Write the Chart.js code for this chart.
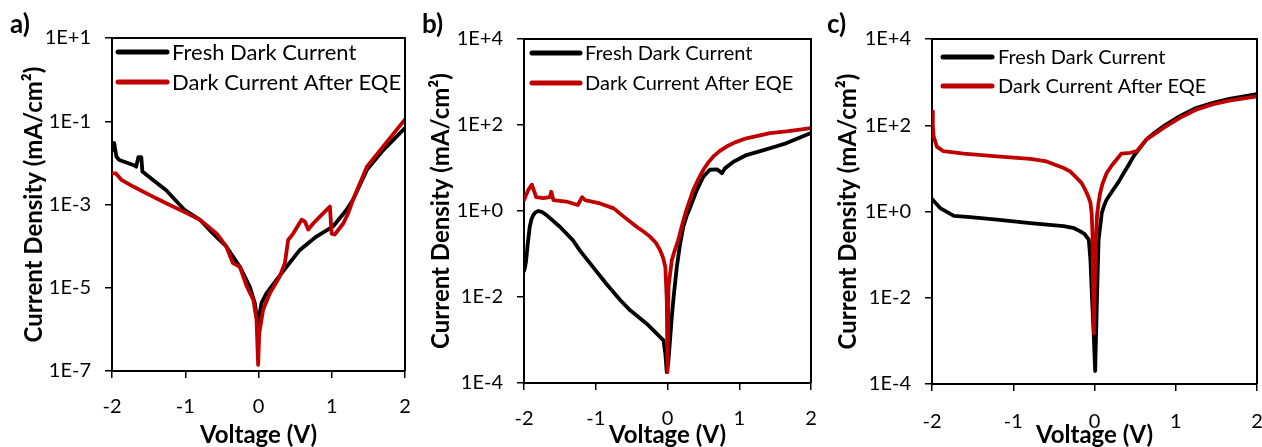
<!DOCTYPE html>
<html><head><meta charset="utf-8">
<script src="https://cdn.jsdelivr.net/npm/chart.js@4"></script>
<style>
html,body{margin:0;padding:0;background:#fff;}
#wrap{position:relative;width:1262px;height:447px;overflow:hidden;background:#fff;}
canvas{position:absolute;top:0;}
.lbl{position:absolute;top:10px;font-family:Lato,"DejaVu Sans",sans-serif;font-weight:bold;font-size:26px;line-height:26px;color:#000;}
</style></head><body>
<div id="wrap">
<canvas id="ca" width="420" height="447" style="left:0px"></canvas>
<canvas id="cb" width="410" height="447" style="left:420px"></canvas>
<canvas id="cc" width="432" height="447" style="left:830px"></canvas>
<div class="lbl" style="left:10px">a)</div>
<div class="lbl" style="left:422px">b)</div>
<div class="lbl" style="left:827px">c)</div>
</div>
<script>
// ---------- data ----------
const panelLabels = ['a)', 'b)', 'c)'];
const seriesNames = ['Fresh Dark Current', 'Dark Current After EQE'];
const xTickValues = [-2, -1, 0, 1, 2];
const aTickValues = [1e1, 1e-1, 1e-3, 1e-5, 1e-7];
const aTickLabels = ['1E+1', '1E-1', '1E-3', '1E-5', '1E-7'];
const bcTickValues = [1e4, 1e2, 1e0, 1e-2, 1e-4];
const bcTickLabels = ['1E+4', '1E+2', '1E+0', '1E-2', '1E-4'];

// panel a
const aFreshV = [-2.0,-1.97,-1.94,-1.90,-1.71,-1.67,-1.64,-1.60,-1.585,-1.44,-1.26,-1.01,-0.80,-0.62,-0.44,-0.255,-0.12,-0.05,-0.018,-0.005,0.01,0.04,0.11,0.246,0.383,0.565,0.79,1.02,1.20,1.29,1.48,1.70,2.0];
const aFreshJ = [0.02,0.03,0.014,0.0117,0.0089,0.0081,0.0138,0.0138,0.0062,0.0039,0.0022,7.4e-4,4.3e-4,2.0e-4,9.8e-5,3.2e-5,1.07e-5,4.3e-6,1.7e-6,9.8e-7,2.0e-6,4.3e-6,7.4e-6,1.55e-5,3.2e-5,8.1e-5,1.7e-4,3.0e-4,7.4e-4,1.3e-3,6.8e-3,0.020,0.069];
const aAfterV = [-2.0,-1.95,-1.87,-1.71,-1.49,-1.26,-0.98,-0.80,-0.57,-0.44,-0.35,-0.255,-0.16,-0.07,-0.027,-0.005,0.01,0.064,0.155,0.29,0.36,0.405,0.474,0.588,0.633,0.679,0.747,0.838,0.975,0.998,1.04,1.157,1.225,1.29,1.48,1.70,2.0];
const aAfterJ = [0.0056,0.0056,0.0039,0.0027,0.0017,0.00107,6.2e-4,4.3e-4,2.0e-4,9.8e-5,3.9e-5,3.2e-5,1.07e-5,5.1e-6,1.7e-6,1.4e-7,8.1e-7,3.0e-6,7.4e-6,1.86e-5,3.9e-5,1.4e-4,2.0e-4,4.3e-4,3.9e-4,2.5e-4,3.5e-4,5.1e-4,8.9e-4,2.0e-4,1.9e-4,3.5e-4,6.2e-4,1.3e-3,8.1e-3,0.0245,0.11];

// panel b
const bFreshV = [-2.0,-1.985,-1.97,-1.95,-1.92,-1.895,-1.87,-1.84,-1.80,-1.75,-1.69,-1.50,-1.32,-1.22,-1.04,-0.85,-0.66,-0.52,-0.29,-0.15,-0.056,-0.03,-0.01,0.014,0.06,0.09,0.13,0.17,0.22,0.27,0.32,0.41,0.50,0.59,0.69,0.76,0.80,0.92,1.10,1.34,1.52,1.66,2.0];
const bFreshJ = [0.04,0.05,0.072,0.16,0.43,0.65,0.81,0.93,1.0,0.95,0.81,0.43,0.21,0.12,0.050,0.020,0.0085,0.0049,0.0024,0.0014,9.8e-4,4.8e-4,1.8e-4,3.4e-4,0.0035,0.012,0.050,0.15,0.43,0.8,1.26,3.1,6.3,9.1,9.3,7.6,9.8,14,20,26,32,38,65];
const bAfterV = [-2.0,-1.94,-1.89,-1.83,-1.73,-1.64,-1.62,-1.59,-1.41,-1.25,-1.19,-1.15,-0.94,-0.75,-0.61,-0.43,-0.33,-0.24,-0.16,-0.10,-0.06,-0.03,-0.01,0.0,0.014,0.06,0.10,0.15,0.20,0.25,0.30,0.36,0.43,0.50,0.57,0.64,0.73,0.83,0.95,1.10,1.43,1.66,2.0];
const bAfterJ = [1.8,3.1,4.1,2.1,2.0,2.1,2.8,1.8,1.66,1.38,2.1,1.8,1.5,1.15,0.74,0.43,0.33,0.25,0.18,0.12,0.08,0.050,0.0085,1.8e-4,0.017,0.072,0.12,0.21,0.45,0.89,1.6,3.1,5.5,9.1,13.5,18.6,25,32,40,49,65,71,85];

// panel c
const cFreshV = [-2.0,-1.90,-1.73,-1.53,-1.20,-0.79,-0.38,-0.25,-0.18,-0.12,-0.07,-0.05,-0.03,-0.01,0.008,0.03,0.05,0.09,0.12,0.15,0.23,0.30,0.36,0.42,0.48,0.56,0.64,0.75,0.85,1.05,1.25,1.46,1.66,2.0];
const cFreshJ = [1.95,1.2,0.79,0.74,0.65,0.54,0.46,0.41,0.35,0.30,0.22,0.076,0.0091,0.0015,2.0e-4,0.0091,0.22,0.93,1.4,1.9,3.2,5.0,7.8,12,19,30,47,70,95,162,251,331,407,525];
const cAfterV = [-2.0,-1.99,-1.98,-1.94,-1.86,-1.61,-1.20,-0.79,-0.59,-0.38,-0.30,-0.22,-0.16,-0.115,-0.08,-0.05,-0.035,-0.025,-0.008,0.008,0.03,0.05,0.07,0.10,0.15,0.21,0.27,0.33,0.44,0.52,0.64,0.85,1.05,1.25,1.46,1.66,2.0];
const cAfterJ = [209,95,55,32,25,22,19,16.6,14.5,10.2,8.5,6.0,4.6,3.2,2.3,1.6,0.9,0.32,0.0015,0.054,0.78,1.6,2.7,4.5,7.8,11.5,15.8,22,23,25,47,87,148,229,309,372,468];

// ---------- helpers ----------
const FONT = 'Lato, "DejaVu Sans", sans-serif';
Chart.defaults.color = '#000';
Chart.defaults.font.family = FONT;

function pts(xs, ys) { return xs.map((x, i) => ({ x: x, y: ys[i] })); }

const framePlugin = {
  id: 'frame',
  afterDatasetsDraw(chart) {
    const { ctx, chartArea: a } = chart;
    ctx.save();
    ctx.strokeStyle = '#000';
    ctx.lineWidth = 2;
    ctx.beginPath();
    ctx.moveTo(a.left, a.top); ctx.lineTo(a.right, a.top); ctx.lineTo(a.right, a.bottom);
    ctx.stroke();
    ctx.restore();
  }
};

const inlineLegend = {
  id: 'inlineLegend',
  afterDraw(chart, args, o) {
    if (!o || !o.rows) return;
    const { ctx, chartArea: a } = chart;
    ctx.save();
    ctx.font = o.font;
    ctx.textBaseline = 'middle';
    ctx.textAlign = 'left';
    o.rows.forEach((dsIndex, i) => {
      const ds = chart.data.datasets[dsIndex];
      const y = a.top + o.top + i * o.gap;
      ctx.strokeStyle = ds.borderColor;
      ctx.lineWidth = 5;
      ctx.lineCap = 'round';
      ctx.beginPath();
      ctx.moveTo(a.left + o.x0, y);
      ctx.lineTo(a.left + o.x1, y);
      ctx.stroke();
      ctx.fillStyle = '#000';
      ctx.fillText(ds.label, a.left + o.tx, y + 1);
    });
    ctx.restore();
  }
};

function makeChart(id, cfg) {
  const datasets = [
    { label: seriesNames[0], data: pts(cfg.freshV, cfg.freshJ), borderColor: '#000000', order: 1 },
    { label: seriesNames[1], data: pts(cfg.afterV, cfg.afterJ), borderColor: '#C00000', order: 0 }
  ].map(d => Object.assign(d, {
    showLine: true, pointRadius: 0, borderWidth: 3.8, tension: 0,
    borderJoinStyle: 'round', borderCapStyle: 'round', fill: false
  }));
  return new Chart(document.getElementById(id), {
    type: 'scatter',
    data: { datasets },
    plugins: [framePlugin, inlineLegend],
    options: {
      responsive: false,
      animation: false,
      devicePixelRatio: 1,
      layout: { padding: { left: 0, right: cfg.padRight, top: cfg.padTop, bottom: 0 } },
      plugins: {
        legend: { display: false },
        tooltip: { enabled: false },
        inlineLegend: cfg.legend
      },
      scales: {
        x: {
          type: 'linear', min: -2, max: 2,
          afterBuildTicks: s => { s.ticks = xTickValues.map(v => ({ value: v })); },
          afterFit: s => { s.height = cfg.xHeight; s.paddingLeft = 0; s.paddingRight = 0; },
          ticks: { font: { size: cfg.tickSize }, padding: cfg.xTickPad, maxRotation: 0, autoSkip: false,
                   callback: v => String(v) },
          grid: { drawOnChartArea: false, drawTicks: true, tickLength: 7, color: '#000', lineWidth: 1.5 },
          border: { display: true, color: '#000', width: 2 },
          title: { display: true, text: 'Voltage (V)', font: { size: 24, weight: 'bold', lineHeight: 1 },
                   padding: { top: 0, bottom: 0 } }
        },
        y: {
          type: 'logarithmic', min: cfg.yMin, max: cfg.yMax,
          afterBuildTicks: s => { s.ticks = cfg.yTicks.map(v => ({ value: v })); },
          afterFit: s => { s.width = cfg.yWidth; s.paddingTop = 0; s.paddingBottom = 0; },
          ticks: { font: { size: cfg.tickSize }, padding: 14, autoSkip: false,
                   callback: v => { const k = cfg.yTicks.findIndex(t => Math.abs(Math.log10(t) - Math.log10(v)) < 1e-6); return k >= 0 ? cfg.yLabels[k] : ''; } },
          grid: { drawOnChartArea: false, drawTicks: true, tickLength: 7, color: '#000', lineWidth: 1.5 },
          border: { display: true, color: '#000', width: 2 },
          title: { display: true, text: 'Current Density (mA/cm\u00B2)', font: { size: 24, weight: 'bold', lineHeight: 1 },
                   padding: { top: cfg.yTitlePad, bottom: 0 } }
        }
      }
    }
  });
}

makeChart('ca', {
  freshV: aFreshV, freshJ: aFreshJ, afterV: aAfterV, afterJ: aAfterJ,
  yMin: 1e-7, yMax: 1e1, yTicks: aTickValues, yLabels: aTickLabels,
  padRight: 15, padTop: 38, yWidth: 112, xHeight: 76, tickSize: 20, xTickPad: 17, yTitlePad: 22,
  legend: { rows: [0, 1], top: 14, gap: 30, x0: 6, x1: 55, tx: 60, font: '22px ' + FONT }
});
makeChart('cb', {
  freshV: bFreshV, freshJ: bFreshJ, afterV: bAfterV, afterJ: bAfterJ,
  yMin: 1e-4, yMax: 1e4, yTicks: bcTickValues, yLabels: bcTickLabels,
  padRight: 19, padTop: 39, yWidth: 104, xHeight: 64, tickSize: 20, xTickPad: 17, yTitlePad: 9,
  legend: { rows: [0, 1], top: 14, gap: 30, x0: 8, x1: 56, tx: 61, font: '20px ' + FONT }
});
makeChart('cc', {
  freshV: cFreshV, freshJ: cFreshJ, afterV: cAfterV, afterJ: cAfterJ,
  yMin: 1e-4, yMax: 1e4, yTicks: bcTickValues, yLabels: bcTickLabels,
  padRight: 5, padTop: 39, yWidth: 102, xHeight: 63, tickSize: 20, xTickPad: 19, yTitlePad: 6,
  legend: { rows: [0, 1], top: 18, gap: 29, x0: 11, x1: 60, tx: 66, font: '20px ' + FONT }
});
</script>
</body></html>
